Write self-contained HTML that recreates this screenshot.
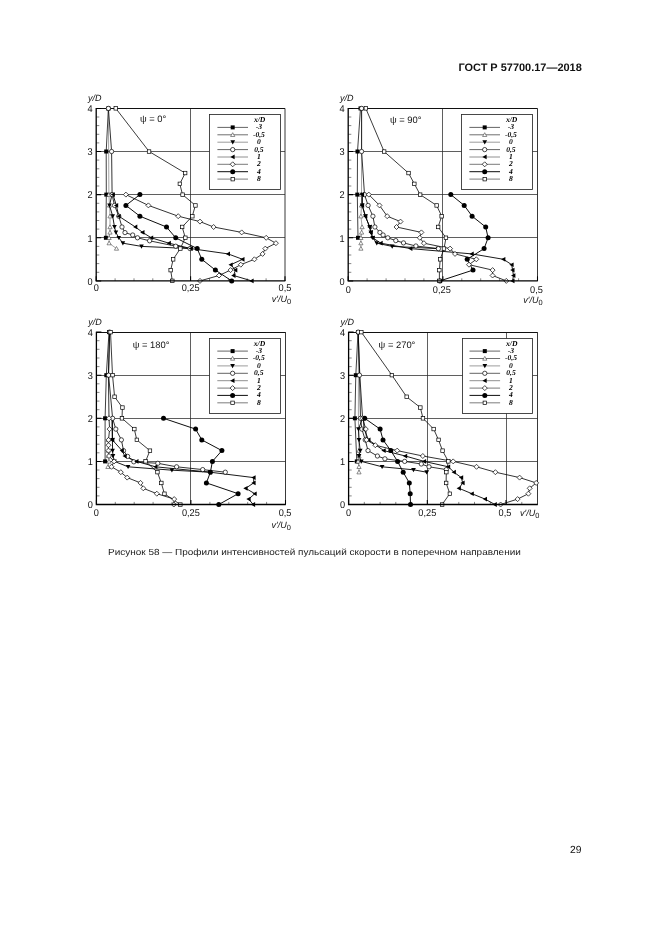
<!DOCTYPE html>
<html lang="ru"><head><meta charset="utf-8"><title>ГОСТ Р 57700.17—2018</title>
<style>
html,body{margin:0;padding:0;background:#fff;}
body{width:661px;height:935px;overflow:hidden;}
svg{display:block;filter:blur(0.3px);}
text{font-family:"Liberation Sans",sans-serif;fill:#111;text-rendering:geometricPrecision;}
.tk{font-size:9.2px;}
.ax{font-size:9.0px;font-style:italic;}
.psi{font-size:9.4px;}
.lg{font-family:"Liberation Serif",serif;font-style:italic;font-weight:bold;font-size:7.6px;fill:#000;text-rendering:geometricPrecision;}
.hd{font-size:10.9px;font-weight:bold;fill:#111;}
.cap{font-size:8.9px;fill:#222;}
.pg{font-size:10.3px;fill:#111;}
</style></head><body>
<svg width="661" height="935" viewBox="0 0 661 935">
<rect width="661" height="935" fill="#fff"/>
<text x="581.8" y="71.3" class="hd" text-anchor="end" textLength="123.4" lengthAdjust="spacingAndGlyphs">ГОСТ Р 57700.17—2018</text>
<g>
<path d="M96.2 237.5H285M96.2 194.5H285M96.2 151.5H285M190.5 108.4V280.9" stroke="#2a2a2a" stroke-width="0.75" fill="none"/>
<path d="M96.2 108.5H285" stroke="#111" stroke-width="1" fill="none"/>
<path d="M285 108.4V280.9" stroke="#222" stroke-width="0.9" fill="none"/>
<path d="M115.1 280.9V278.3M134 280.9V278.3M152.8 280.9V278.3M171.7 280.9V278.3M209.5 280.9V278.3M228.4 280.9V278.3M247.2 280.9V278.3M266.1 280.9V278.3M96.2 272.3H99.3M96.2 263.6H99.3M96.2 255H99.3M96.2 246.4H99.3M96.2 229.1H99.3M96.2 220.5H99.3M96.2 211.9H99.3M96.2 203.3H99.3M96.2 186H99.3M96.2 177.4H99.3M96.2 168.8H99.3M96.2 160.1H99.3M96.2 142.9H99.3M96.2 134.3H99.3M96.2 125.6H99.3M96.2 117H99.3" stroke="#444" stroke-width="0.65" fill="none"/>
<path d="M96.2 280.9V276.3M190.6 280.9V276.3M285 280.9V276.3M96.2 280.9H101.2M96.2 237.8H101.2M96.2 194.6H101.2M96.2 151.5H101.2M96.2 108.4H101.2" stroke="#000" stroke-width="1.05" fill="none"/>
<path d="M108.4 108.4L106.2 151.5L106.3 194.6L105.9 237.8" stroke="#000" stroke-width="0.75" fill="none" stroke-linejoin="round"/>
<path d="M108.4 108.4L108.9 194.6L109.5 205.4L110 216.2L110 227L110 232.4L109.1 237.8L109.1 243.2L116.5 248.6" stroke="#666" stroke-width="0.6" fill="none" stroke-linejoin="round"/>
<path d="M112 194.6L109.5 205.4L112.7 216.2L114.5 227L115.9 232.4L118.8 237.8L122.9 243.2L141.5 246.4L190.9 248.6" stroke="#000" stroke-width="0.9" fill="none" stroke-linejoin="round"/>
<path d="M108.4 108.4L111.6 151.5L112.1 194.6L114.5 205.4L118.8 216.2L122 227L125 232.6L132.7 235L137.5 237.8L149.6 240.8L175.7 246.2L190 248.6" stroke="#000" stroke-width="0.8" fill="none" stroke-linejoin="round"/>
<path d="M113 194.6L116.3 205.4L118.8 216.2L135.4 227L142.6 232.4L151.3 237.8L169 243.2L190.9 248.6L228.1 253.9L242.6 259.3L230.8 264.7L235.4 270.1L233.6 275.5L251.7 280.9" stroke="#000" stroke-width="0.9" fill="none" stroke-linejoin="round"/>
<path d="M125.9 194.6L148.4 205.4L178.2 216.2L200 221.6L213.6 227L241.7 232.4L266.2 237.8L275.9 243.2L265.3 248.6L262.6 253.9L254.4 259.3L240.8 264.7L230.5 270.1L219 275.5L200 280.9" stroke="#000" stroke-width="0.8" fill="none" stroke-linejoin="round"/>
<path d="M139.9 194.6L125.9 205.4L139.9 216.2L166.5 227L175.7 237.8L197.2 248.6L201.8 259.3L215.4 270.1L231.7 280.9" stroke="#000" stroke-width="0.95" fill="none" stroke-linejoin="round"/>
<path d="M115.8 108.4L149.1 151.5L185.2 173.1L179.8 183.9L182.5 194.6L195.4 205.4L192.3 216.2L182.2 227L185.3 237.8L180.3 248.6L173.2 259.3L170.7 270.1L172.3 280.9" stroke="#0a0a0a" stroke-width="0.8" fill="none" stroke-linejoin="round"/>
<rect x="106.4" y="106.4" width="4" height="4" fill="#000"/>
<rect x="104.2" y="149.5" width="4" height="4" fill="#000"/>
<rect x="104.3" y="192.6" width="4" height="4" fill="#000"/>
<rect x="103.9" y="235.8" width="4" height="4" fill="#000"/>
<path d="M108.4 106.3L110.5 110.1L106.3 110.1Z" fill="#fff" stroke="#333" stroke-width="0.55"/>
<path d="M108.9 192.5L111 196.3L106.8 196.3Z" fill="#fff" stroke="#333" stroke-width="0.55"/>
<path d="M109.5 203.3L111.6 207.1L107.4 207.1Z" fill="#fff" stroke="#333" stroke-width="0.55"/>
<path d="M110 214.1L112.1 217.9L107.9 217.9Z" fill="#fff" stroke="#333" stroke-width="0.55"/>
<path d="M110 224.9L112.1 228.7L107.9 228.7Z" fill="#fff" stroke="#333" stroke-width="0.55"/>
<path d="M110 230.3L112.1 234.1L107.9 234.1Z" fill="#fff" stroke="#333" stroke-width="0.55"/>
<path d="M109.1 235.7L111.2 239.5L107 239.5Z" fill="#fff" stroke="#333" stroke-width="0.55"/>
<path d="M109.1 241.1L111.2 244.8L107 244.8Z" fill="#fff" stroke="#333" stroke-width="0.55"/>
<path d="M116.5 246.5L118.6 250.2L114.4 250.2Z" fill="#fff" stroke="#333" stroke-width="0.55"/>
<path d="M109.7 192.8L114.3 192.8L112 197Z" fill="#000"/>
<path d="M107.2 203.6L111.8 203.6L109.5 207.8Z" fill="#000"/>
<path d="M110.4 214.3L115 214.3L112.7 218.6Z" fill="#000"/>
<path d="M112.2 225.1L116.8 225.1L114.5 229.3Z" fill="#000"/>
<path d="M113.6 230.5L118.2 230.5L115.9 234.7Z" fill="#000"/>
<path d="M116.5 235.9L121.1 235.9L118.8 240.1Z" fill="#000"/>
<path d="M120.6 241.3L125.2 241.3L122.9 245.5Z" fill="#000"/>
<path d="M139.2 244.5L143.8 244.5L141.5 248.7Z" fill="#000"/>
<path d="M188.6 246.7L193.2 246.7L190.9 250.9Z" fill="#000"/>
<circle cx="108.4" cy="108.4" r="2.15" fill="#fff" stroke="#000" stroke-width="0.7"/>
<circle cx="111.6" cy="151.5" r="2.15" fill="#fff" stroke="#000" stroke-width="0.7"/>
<circle cx="112.1" cy="194.6" r="2.15" fill="#fff" stroke="#000" stroke-width="0.7"/>
<circle cx="114.5" cy="205.4" r="2.15" fill="#fff" stroke="#000" stroke-width="0.7"/>
<circle cx="118.8" cy="216.2" r="2.15" fill="#fff" stroke="#000" stroke-width="0.7"/>
<circle cx="122" cy="227" r="2.15" fill="#fff" stroke="#000" stroke-width="0.7"/>
<circle cx="125" cy="232.6" r="2.15" fill="#fff" stroke="#000" stroke-width="0.7"/>
<circle cx="132.7" cy="235" r="2.15" fill="#fff" stroke="#000" stroke-width="0.7"/>
<circle cx="137.5" cy="237.8" r="2.15" fill="#fff" stroke="#000" stroke-width="0.7"/>
<circle cx="149.6" cy="240.8" r="2.15" fill="#fff" stroke="#000" stroke-width="0.7"/>
<circle cx="175.7" cy="246.2" r="2.15" fill="#fff" stroke="#000" stroke-width="0.7"/>
<circle cx="190" cy="248.6" r="2.15" fill="#fff" stroke="#000" stroke-width="0.7"/>
<path d="M110.7 194.6L114.9 192.3L114.9 197Z" fill="#000"/>
<path d="M114 205.4L118.2 203.1L118.2 207.8Z" fill="#000"/>
<path d="M116.5 216.2L120.7 213.9L120.7 218.6Z" fill="#000"/>
<path d="M133.1 227L137.3 224.6L137.3 229.3Z" fill="#000"/>
<path d="M140.2 232.4L144.5 230L144.5 234.7Z" fill="#000"/>
<path d="M149 237.8L153.2 235.4L153.2 240.1Z" fill="#000"/>
<path d="M166.7 243.2L170.9 240.8L170.9 245.5Z" fill="#000"/>
<path d="M188.6 248.6L192.8 246.2L192.8 250.9Z" fill="#000"/>
<path d="M225.8 253.9L230 251.6L230 256.3Z" fill="#000"/>
<path d="M240.2 259.3L244.5 257L244.5 261.7Z" fill="#000"/>
<path d="M228.5 264.7L232.7 262.4L232.7 267.1Z" fill="#000"/>
<path d="M233.1 270.1L237.3 267.8L237.3 272.5Z" fill="#000"/>
<path d="M231.2 275.5L235.5 273.2L235.5 277.9Z" fill="#000"/>
<path d="M249.3 280.9L253.6 278.5L253.6 283.2Z" fill="#000"/>
<path d="M125.9 192.1L128.4 194.6L125.9 197.1L123.4 194.6Z" fill="#fff" stroke="#000" stroke-width="0.7"/>
<path d="M148.4 202.9L150.9 205.4L148.4 207.9L145.9 205.4Z" fill="#fff" stroke="#000" stroke-width="0.7"/>
<path d="M178.2 213.7L180.7 216.2L178.2 218.7L175.7 216.2Z" fill="#fff" stroke="#000" stroke-width="0.7"/>
<path d="M200 219.1L202.5 221.6L200 224.1L197.5 221.6Z" fill="#fff" stroke="#000" stroke-width="0.7"/>
<path d="M213.6 224.5L216.1 227L213.6 229.5L211.1 227Z" fill="#fff" stroke="#000" stroke-width="0.7"/>
<path d="M241.7 229.9L244.2 232.4L241.7 234.9L239.2 232.4Z" fill="#fff" stroke="#000" stroke-width="0.7"/>
<path d="M266.2 235.3L268.7 237.8L266.2 240.3L263.7 237.8Z" fill="#fff" stroke="#000" stroke-width="0.7"/>
<path d="M275.9 240.7L278.4 243.2L275.9 245.7L273.4 243.2Z" fill="#fff" stroke="#000" stroke-width="0.7"/>
<path d="M265.3 246.1L267.8 248.6L265.3 251.1L262.8 248.6Z" fill="#fff" stroke="#000" stroke-width="0.7"/>
<path d="M262.6 251.4L265.1 253.9L262.6 256.4L260.1 253.9Z" fill="#fff" stroke="#000" stroke-width="0.7"/>
<path d="M254.4 256.8L256.9 259.3L254.4 261.8L251.9 259.3Z" fill="#fff" stroke="#000" stroke-width="0.7"/>
<path d="M240.8 262.2L243.3 264.7L240.8 267.2L238.3 264.7Z" fill="#fff" stroke="#000" stroke-width="0.7"/>
<path d="M230.5 267.6L233 270.1L230.5 272.6L228 270.1Z" fill="#fff" stroke="#000" stroke-width="0.7"/>
<path d="M219 273L221.5 275.5L219 278L216.5 275.5Z" fill="#fff" stroke="#000" stroke-width="0.7"/>
<path d="M200 278.4L202.5 280.9L200 283.4L197.5 280.9Z" fill="#fff" stroke="#000" stroke-width="0.7"/>
<circle cx="139.9" cy="194.6" r="2.5" fill="#000"/>
<circle cx="125.9" cy="205.4" r="2.5" fill="#000"/>
<circle cx="139.9" cy="216.2" r="2.5" fill="#000"/>
<circle cx="166.5" cy="227" r="2.5" fill="#000"/>
<circle cx="175.7" cy="237.8" r="2.5" fill="#000"/>
<circle cx="197.2" cy="248.6" r="2.5" fill="#000"/>
<circle cx="201.8" cy="259.3" r="2.5" fill="#000"/>
<circle cx="215.4" cy="270.1" r="2.5" fill="#000"/>
<circle cx="231.7" cy="280.9" r="2.5" fill="#000"/>
<rect x="114" y="106.6" width="3.5" height="3.5" fill="#fff" stroke="#000" stroke-width="0.7"/>
<rect x="147.3" y="149.8" width="3.5" height="3.5" fill="#fff" stroke="#000" stroke-width="0.7"/>
<rect x="183.4" y="171.3" width="3.5" height="3.5" fill="#fff" stroke="#000" stroke-width="0.7"/>
<rect x="178.1" y="182.1" width="3.5" height="3.5" fill="#fff" stroke="#000" stroke-width="0.7"/>
<rect x="180.8" y="192.9" width="3.5" height="3.5" fill="#fff" stroke="#000" stroke-width="0.7"/>
<rect x="193.7" y="203.7" width="3.5" height="3.5" fill="#fff" stroke="#000" stroke-width="0.7"/>
<rect x="190.6" y="214.5" width="3.5" height="3.5" fill="#fff" stroke="#000" stroke-width="0.7"/>
<rect x="180.4" y="225.2" width="3.5" height="3.5" fill="#fff" stroke="#000" stroke-width="0.7"/>
<rect x="183.6" y="236" width="3.5" height="3.5" fill="#fff" stroke="#000" stroke-width="0.7"/>
<rect x="178.6" y="246.8" width="3.5" height="3.5" fill="#fff" stroke="#000" stroke-width="0.7"/>
<rect x="171.4" y="257.6" width="3.5" height="3.5" fill="#fff" stroke="#000" stroke-width="0.7"/>
<rect x="168.9" y="268.4" width="3.5" height="3.5" fill="#fff" stroke="#000" stroke-width="0.7"/>
<rect x="170.6" y="279.1" width="3.5" height="3.5" fill="#fff" stroke="#000" stroke-width="0.7"/>
<path d="M96.2 108.1V280.9H285.3" stroke="#000" stroke-width="1.3" fill="none"/>
<rect x="209.5" y="114.5" width="71" height="75" fill="#fff" stroke="#2a2a2a" stroke-width="0.85"/>
<text x="259.6" y="122.4" class="lg" text-anchor="middle">x/D</text>
<path d="M217.4 127.4H248" stroke="#111" stroke-width="0.65"/>
<rect x="230.7" y="125.4" width="4" height="4" fill="#000"/>
<text x="258.9" y="129.3" class="lg" text-anchor="middle">-3</text>
<path d="M217.4 134.8H248" stroke="#222" stroke-width="0.65"/>
<path d="M232.7 132.7L234.8 136.5L230.6 136.5Z" fill="#fff" stroke="#333" stroke-width="0.55"/>
<text x="258.9" y="136.7" class="lg" text-anchor="middle">-0,5</text>
<path d="M217.4 142.2H248" stroke="#666" stroke-width="0.65"/>
<path d="M230.4 140.3L235.1 140.3L232.7 144.5Z" fill="#000"/>
<text x="258.9" y="144.1" class="lg" text-anchor="middle">0</text>
<path d="M217.4 149.6H248" stroke="#111" stroke-width="0.65"/>
<circle cx="232.7" cy="149.6" r="2.15" fill="#fff" stroke="#000" stroke-width="0.7"/>
<text x="258.9" y="151.5" class="lg" text-anchor="middle">0,5</text>
<path d="M217.4 157H248" stroke="#555" stroke-width="0.65"/>
<path d="M230.4 157L234.6 154.6L234.6 159.3Z" fill="#000"/>
<text x="258.9" y="158.9" class="lg" text-anchor="middle">1</text>
<path d="M217.4 164.3H248" stroke="#333" stroke-width="0.65"/>
<path d="M232.7 161.8L235.2 164.3L232.7 166.8L230.2 164.3Z" fill="#fff" stroke="#000" stroke-width="0.7"/>
<text x="258.9" y="166.2" class="lg" text-anchor="middle">2</text>
<path d="M217.4 171.7H248" stroke="#000" stroke-width="0.95"/>
<circle cx="232.7" cy="171.7" r="2.5" fill="#000"/>
<text x="258.9" y="173.6" class="lg" text-anchor="middle">4</text>
<path d="M217.4 179.1H248" stroke="#888" stroke-width="1.1"/>
<rect x="231" y="177.4" width="3.5" height="3.5" fill="#fff" stroke="#000" stroke-width="0.7"/>
<text x="258.9" y="181" class="lg" text-anchor="middle">8</text>
<text transform="translate(92.6 284.6) scale(1 1.07)" class="tk" text-anchor="end">0</text>
<text transform="translate(92.6 241.5) scale(1 1.07)" class="tk" text-anchor="end">1</text>
<text transform="translate(92.6 198.3) scale(1 1.07)" class="tk" text-anchor="end">2</text>
<text transform="translate(92.6 155.2) scale(1 1.07)" class="tk" text-anchor="end">3</text>
<text transform="translate(92.6 112.1) scale(1 1.07)" class="tk" text-anchor="end">4</text>
<text x="88" y="101.4" class="ax">y/D</text>
<text transform="translate(96.2 290.9) scale(1 1.07)" class="tk" text-anchor="middle">0</text>
<text transform="translate(190.6 290.9) scale(1 1.07)" class="tk" text-anchor="middle">0,25</text>
<text transform="translate(285 290.9) scale(1 1.07)" class="tk" text-anchor="middle">0,5</text>
<text x="271.7" y="301.8" class="ax">v′/U<tspan dy="2" font-size="7.4" font-style="normal">0</tspan></text>
<text x="140" y="122.3" class="psi">ψ = 0°</text>
</g>
<g>
<path d="M348.2 237.5H537.5M348.2 194.5H537.5M348.2 151.5H537.5M442.5 108.4V280.9" stroke="#2a2a2a" stroke-width="0.75" fill="none"/>
<path d="M348.2 108.5H537.5" stroke="#111" stroke-width="1" fill="none"/>
<path d="M537.5 108.4V280.9" stroke="#222" stroke-width="0.9" fill="none"/>
<path d="M367.1 280.9V278.3M386.1 280.9V278.3M405 280.9V278.3M423.9 280.9V278.3M461.8 280.9V278.3M480.7 280.9V278.3M499.6 280.9V278.3M518.6 280.9V278.3M348.2 272.3H351.3M348.2 263.6H351.3M348.2 255H351.3M348.2 246.4H351.3M348.2 229.1H351.3M348.2 220.5H351.3M348.2 211.9H351.3M348.2 203.3H351.3M348.2 186H351.3M348.2 177.4H351.3M348.2 168.8H351.3M348.2 160.1H351.3M348.2 142.9H351.3M348.2 134.3H351.3M348.2 125.6H351.3M348.2 117H351.3" stroke="#444" stroke-width="0.65" fill="none"/>
<path d="M348.2 280.9V276.3M442.9 280.9V276.3M537.5 280.9V276.3M348.2 280.9H353.2M348.2 237.8H353.2M348.2 194.6H353.2M348.2 151.5H353.2M348.2 108.4H353.2" stroke="#000" stroke-width="1.05" fill="none"/>
<path d="M360.5 108.4L357.5 151.5L357.3 194.6L358 237.8" stroke="#000" stroke-width="0.75" fill="none" stroke-linejoin="round"/>
<path d="M361.6 108.4L361.5 194.6L361.5 205.4L360.9 216.2L362.1 227L361.6 232.4L360.9 237.8L360.9 243.2L360.9 248.6" stroke="#666" stroke-width="0.6" fill="none" stroke-linejoin="round"/>
<path d="M362.2 194.6L362.2 205.4L365.4 216.2L369.7 227L370.9 232.4L372.7 237.8L376.8 243.2L392.2 246.4L438 248.6" stroke="#000" stroke-width="0.9" fill="none" stroke-linejoin="round"/>
<path d="M361.6 108.4L361.6 151.5L364.5 194.6L368.1 205.4L372.9 216.2L374.9 227L379.9 232.4L383.1 235L387.8 237.8L395.8 240.6L403.5 242.9L415.9 246L438.4 248.6" stroke="#000" stroke-width="0.8" fill="none" stroke-linejoin="round"/>
<path d="M362.2 194.6L362.2 205.4L365.4 216.2L369.7 227L370.9 232.4L372.7 237.8L380.8 243.2L410.5 248.6L471.8 253.9L503.5 259.3L511.7 264.7L512.6 270.1L513.5 275.5L512.6 280.9" stroke="#000" stroke-width="0.9" fill="none" stroke-linejoin="round"/>
<path d="M368.8 194.6L379.5 205.4L387.2 216.2L400.5 221.6L396.5 227L421.4 232.4L419.8 237.8L423.9 243.2L450.1 248.6L455 253.9L476.3 259.3L469 264.7L492.6 270.1L492.6 275.5L506.3 280.9" stroke="#000" stroke-width="0.8" fill="none" stroke-linejoin="round"/>
<path d="M450.8 194.6L464.2 205.4L472.1 216.2L485.7 227L488.1 237.8L484.1 248.6L467.2 259.3L473 270.1L440 280.9" stroke="#000" stroke-width="0.95" fill="none" stroke-linejoin="round"/>
<path d="M365.8 108.4L384.1 151.5L408.5 173.1L414.4 183.9L420.1 194.6L436.6 205.4L441.7 216.2L438.1 227L446 237.8L444 248.6L440.2 259.3L439.4 270.1L439.4 280.9" stroke="#0a0a0a" stroke-width="0.8" fill="none" stroke-linejoin="round"/>
<rect x="358.5" y="106.4" width="4" height="4" fill="#000"/>
<rect x="355.5" y="149.5" width="4" height="4" fill="#000"/>
<rect x="355.3" y="192.6" width="4" height="4" fill="#000"/>
<rect x="356" y="235.8" width="4" height="4" fill="#000"/>
<path d="M361.6 106.3L363.7 110.1L359.5 110.1Z" fill="#fff" stroke="#333" stroke-width="0.55"/>
<path d="M361.5 192.5L363.6 196.3L359.4 196.3Z" fill="#fff" stroke="#333" stroke-width="0.55"/>
<path d="M361.5 203.3L363.6 207.1L359.4 207.1Z" fill="#fff" stroke="#333" stroke-width="0.55"/>
<path d="M360.9 214.1L363 217.9L358.8 217.9Z" fill="#fff" stroke="#333" stroke-width="0.55"/>
<path d="M362.1 224.9L364.2 228.7L360 228.7Z" fill="#fff" stroke="#333" stroke-width="0.55"/>
<path d="M361.6 230.3L363.7 234.1L359.5 234.1Z" fill="#fff" stroke="#333" stroke-width="0.55"/>
<path d="M360.9 235.7L363 239.5L358.8 239.5Z" fill="#fff" stroke="#333" stroke-width="0.55"/>
<path d="M360.9 241.1L363 244.8L358.8 244.8Z" fill="#fff" stroke="#333" stroke-width="0.55"/>
<path d="M360.9 246.5L363 250.2L358.8 250.2Z" fill="#fff" stroke="#333" stroke-width="0.55"/>
<path d="M359.8 192.8L364.6 192.8L362.2 197Z" fill="#000"/>
<path d="M359.8 203.6L364.6 203.6L362.2 207.8Z" fill="#000"/>
<path d="M363 214.3L367.8 214.3L365.4 218.6Z" fill="#000"/>
<path d="M367.3 225.1L372.1 225.1L369.7 229.3Z" fill="#000"/>
<path d="M368.5 230.5L373.2 230.5L370.9 234.7Z" fill="#000"/>
<path d="M370.3 235.9L375.1 235.9L372.7 240.1Z" fill="#000"/>
<path d="M374.4 241.3L379.2 241.3L376.8 245.5Z" fill="#000"/>
<path d="M389.8 244.5L394.6 244.5L392.2 248.7Z" fill="#000"/>
<path d="M435.6 246.7L440.4 246.7L438 250.9Z" fill="#000"/>
<circle cx="361.6" cy="108.4" r="2.15" fill="#fff" stroke="#000" stroke-width="0.7"/>
<circle cx="361.6" cy="151.5" r="2.15" fill="#fff" stroke="#000" stroke-width="0.7"/>
<circle cx="364.5" cy="194.6" r="2.15" fill="#fff" stroke="#000" stroke-width="0.7"/>
<circle cx="368.1" cy="205.4" r="2.15" fill="#fff" stroke="#000" stroke-width="0.7"/>
<circle cx="372.9" cy="216.2" r="2.15" fill="#fff" stroke="#000" stroke-width="0.7"/>
<circle cx="374.9" cy="227" r="2.15" fill="#fff" stroke="#000" stroke-width="0.7"/>
<circle cx="379.9" cy="232.4" r="2.15" fill="#fff" stroke="#000" stroke-width="0.7"/>
<circle cx="383.1" cy="235" r="2.15" fill="#fff" stroke="#000" stroke-width="0.7"/>
<circle cx="387.8" cy="237.8" r="2.15" fill="#fff" stroke="#000" stroke-width="0.7"/>
<circle cx="395.8" cy="240.6" r="2.15" fill="#fff" stroke="#000" stroke-width="0.7"/>
<circle cx="403.5" cy="242.9" r="2.15" fill="#fff" stroke="#000" stroke-width="0.7"/>
<circle cx="415.9" cy="246" r="2.15" fill="#fff" stroke="#000" stroke-width="0.7"/>
<circle cx="438.4" cy="248.6" r="2.15" fill="#fff" stroke="#000" stroke-width="0.7"/>
<path d="M359.8 194.6L364.1 192.3L364.1 197Z" fill="#000"/>
<path d="M359.8 205.4L364.1 203.1L364.1 207.8Z" fill="#000"/>
<path d="M363 216.2L367.3 213.9L367.3 218.6Z" fill="#000"/>
<path d="M367.3 227L371.6 224.6L371.6 229.3Z" fill="#000"/>
<path d="M368.5 232.4L372.8 230L372.8 234.7Z" fill="#000"/>
<path d="M370.3 237.8L374.6 235.4L374.6 240.1Z" fill="#000"/>
<path d="M378.4 243.2L382.7 240.8L382.7 245.5Z" fill="#000"/>
<path d="M408.1 248.6L412.4 246.2L412.4 250.9Z" fill="#000"/>
<path d="M469.4 253.9L473.7 251.6L473.7 256.3Z" fill="#000"/>
<path d="M501.1 259.3L505.4 257L505.4 261.7Z" fill="#000"/>
<path d="M509.3 264.7L513.6 262.4L513.6 267.1Z" fill="#000"/>
<path d="M510.2 270.1L514.5 267.8L514.5 272.5Z" fill="#000"/>
<path d="M511.1 275.5L515.4 273.2L515.4 277.9Z" fill="#000"/>
<path d="M510.2 280.9L514.5 278.5L514.5 283.2Z" fill="#000"/>
<path d="M368.8 192.1L371.3 194.6L368.8 197.1L366.3 194.6Z" fill="#fff" stroke="#000" stroke-width="0.7"/>
<path d="M379.5 202.9L382 205.4L379.5 207.9L377 205.4Z" fill="#fff" stroke="#000" stroke-width="0.7"/>
<path d="M387.2 213.7L389.7 216.2L387.2 218.7L384.7 216.2Z" fill="#fff" stroke="#000" stroke-width="0.7"/>
<path d="M400.5 219.1L403 221.6L400.5 224.1L398 221.6Z" fill="#fff" stroke="#000" stroke-width="0.7"/>
<path d="M396.5 224.5L399 227L396.5 229.5L394 227Z" fill="#fff" stroke="#000" stroke-width="0.7"/>
<path d="M421.4 229.9L423.9 232.4L421.4 234.9L418.9 232.4Z" fill="#fff" stroke="#000" stroke-width="0.7"/>
<path d="M419.8 235.3L422.3 237.8L419.8 240.3L417.3 237.8Z" fill="#fff" stroke="#000" stroke-width="0.7"/>
<path d="M423.9 240.7L426.4 243.2L423.9 245.7L421.4 243.2Z" fill="#fff" stroke="#000" stroke-width="0.7"/>
<path d="M450.1 246.1L452.6 248.6L450.1 251.1L447.6 248.6Z" fill="#fff" stroke="#000" stroke-width="0.7"/>
<path d="M455 251.4L457.5 253.9L455 256.4L452.5 253.9Z" fill="#fff" stroke="#000" stroke-width="0.7"/>
<path d="M476.3 256.8L478.8 259.3L476.3 261.8L473.8 259.3Z" fill="#fff" stroke="#000" stroke-width="0.7"/>
<path d="M469 262.2L471.5 264.7L469 267.2L466.5 264.7Z" fill="#fff" stroke="#000" stroke-width="0.7"/>
<path d="M492.6 267.6L495.1 270.1L492.6 272.6L490.1 270.1Z" fill="#fff" stroke="#000" stroke-width="0.7"/>
<path d="M492.6 273L495.1 275.5L492.6 278L490.1 275.5Z" fill="#fff" stroke="#000" stroke-width="0.7"/>
<path d="M506.3 278.4L508.8 280.9L506.3 283.4L503.8 280.9Z" fill="#fff" stroke="#000" stroke-width="0.7"/>
<circle cx="450.8" cy="194.6" r="2.5" fill="#000"/>
<circle cx="464.2" cy="205.4" r="2.5" fill="#000"/>
<circle cx="472.1" cy="216.2" r="2.5" fill="#000"/>
<circle cx="485.7" cy="227" r="2.5" fill="#000"/>
<circle cx="488.1" cy="237.8" r="2.5" fill="#000"/>
<circle cx="484.1" cy="248.6" r="2.5" fill="#000"/>
<circle cx="467.2" cy="259.3" r="2.5" fill="#000"/>
<circle cx="473" cy="270.1" r="2.5" fill="#000"/>
<circle cx="440" cy="280.9" r="2.5" fill="#000"/>
<rect x="364.1" y="106.6" width="3.5" height="3.5" fill="#fff" stroke="#000" stroke-width="0.7"/>
<rect x="382.4" y="149.8" width="3.5" height="3.5" fill="#fff" stroke="#000" stroke-width="0.7"/>
<rect x="406.8" y="171.3" width="3.5" height="3.5" fill="#fff" stroke="#000" stroke-width="0.7"/>
<rect x="412.6" y="182.1" width="3.5" height="3.5" fill="#fff" stroke="#000" stroke-width="0.7"/>
<rect x="418.4" y="192.9" width="3.5" height="3.5" fill="#fff" stroke="#000" stroke-width="0.7"/>
<rect x="434.9" y="203.7" width="3.5" height="3.5" fill="#fff" stroke="#000" stroke-width="0.7"/>
<rect x="439.9" y="214.5" width="3.5" height="3.5" fill="#fff" stroke="#000" stroke-width="0.7"/>
<rect x="436.4" y="225.2" width="3.5" height="3.5" fill="#fff" stroke="#000" stroke-width="0.7"/>
<rect x="444.2" y="236" width="3.5" height="3.5" fill="#fff" stroke="#000" stroke-width="0.7"/>
<rect x="442.2" y="246.8" width="3.5" height="3.5" fill="#fff" stroke="#000" stroke-width="0.7"/>
<rect x="438.4" y="257.6" width="3.5" height="3.5" fill="#fff" stroke="#000" stroke-width="0.7"/>
<rect x="437.6" y="268.4" width="3.5" height="3.5" fill="#fff" stroke="#000" stroke-width="0.7"/>
<rect x="437.6" y="279.1" width="3.5" height="3.5" fill="#fff" stroke="#000" stroke-width="0.7"/>
<path d="M348.2 108.1V280.9H537.8" stroke="#000" stroke-width="1.3" fill="none"/>
<rect x="461.5" y="114.5" width="71" height="75" fill="#fff" stroke="#2a2a2a" stroke-width="0.85"/>
<text x="511.6" y="122.4" class="lg" text-anchor="middle">x/D</text>
<path d="M469.4 127.4H500" stroke="#111" stroke-width="0.65"/>
<rect x="482.7" y="125.4" width="4" height="4" fill="#000"/>
<text x="510.9" y="129.3" class="lg" text-anchor="middle">-3</text>
<path d="M469.4 134.8H500" stroke="#222" stroke-width="0.65"/>
<path d="M484.7 132.7L486.8 136.5L482.6 136.5Z" fill="#fff" stroke="#333" stroke-width="0.55"/>
<text x="510.9" y="136.7" class="lg" text-anchor="middle">-0,5</text>
<path d="M469.4 142.2H500" stroke="#666" stroke-width="0.65"/>
<path d="M482.4 140.3L487.1 140.3L484.7 144.5Z" fill="#000"/>
<text x="510.9" y="144.1" class="lg" text-anchor="middle">0</text>
<path d="M469.4 149.6H500" stroke="#111" stroke-width="0.65"/>
<circle cx="484.7" cy="149.6" r="2.15" fill="#fff" stroke="#000" stroke-width="0.7"/>
<text x="510.9" y="151.5" class="lg" text-anchor="middle">0,5</text>
<path d="M469.4 157H500" stroke="#555" stroke-width="0.65"/>
<path d="M482.4 157L486.6 154.6L486.6 159.3Z" fill="#000"/>
<text x="510.9" y="158.9" class="lg" text-anchor="middle">1</text>
<path d="M469.4 164.3H500" stroke="#333" stroke-width="0.65"/>
<path d="M484.7 161.8L487.2 164.3L484.7 166.8L482.2 164.3Z" fill="#fff" stroke="#000" stroke-width="0.7"/>
<text x="510.9" y="166.2" class="lg" text-anchor="middle">2</text>
<path d="M469.4 171.7H500" stroke="#000" stroke-width="0.95"/>
<circle cx="484.7" cy="171.7" r="2.5" fill="#000"/>
<text x="510.9" y="173.6" class="lg" text-anchor="middle">4</text>
<path d="M469.4 179.1H500" stroke="#888" stroke-width="1.1"/>
<rect x="483" y="177.4" width="3.5" height="3.5" fill="#fff" stroke="#000" stroke-width="0.7"/>
<text x="510.9" y="181" class="lg" text-anchor="middle">8</text>
<text transform="translate(344.6 284.6) scale(1 1.07)" class="tk" text-anchor="end">0</text>
<text transform="translate(344.6 241.5) scale(1 1.07)" class="tk" text-anchor="end">1</text>
<text transform="translate(344.6 198.3) scale(1 1.07)" class="tk" text-anchor="end">2</text>
<text transform="translate(344.6 155.2) scale(1 1.07)" class="tk" text-anchor="end">3</text>
<text transform="translate(344.6 112.1) scale(1 1.07)" class="tk" text-anchor="end">4</text>
<text x="340" y="101.4" class="ax">y/D</text>
<text transform="translate(348.2 292.5) scale(1 1.07)" class="tk" text-anchor="middle">0</text>
<text transform="translate(441.8 292.5) scale(1 1.07)" class="tk" text-anchor="middle">0,25</text>
<text transform="translate(536.5 292.5) scale(1 1.07)" class="tk" text-anchor="middle">0,5</text>
<text x="523.3" y="303.3" class="ax">v′/U<tspan dy="2" font-size="7.4" font-style="normal">0</tspan></text>
<text x="390" y="122.5" class="psi">ψ = 90°</text>
</g>
<g>
<path d="M96.4 461.5H285.5M96.4 418.5H285.5M96.4 375.5H285.5M190.5 332.1V504.5" stroke="#2a2a2a" stroke-width="0.75" fill="none"/>
<path d="M96.4 332.5H285.5" stroke="#111" stroke-width="1" fill="none"/>
<path d="M285.5 332.1V504.5" stroke="#222" stroke-width="0.9" fill="none"/>
<path d="M115.3 504.5V501.9M134.2 504.5V501.9M153.1 504.5V501.9M172 504.5V501.9M209.9 504.5V501.9M228.8 504.5V501.9M247.7 504.5V501.9M266.6 504.5V501.9M96.4 495.9H99.5M96.4 487.3H99.5M96.4 478.6H99.5M96.4 470H99.5M96.4 452.8H99.5M96.4 444.2H99.5M96.4 435.5H99.5M96.4 426.9H99.5M96.4 409.7H99.5M96.4 401.1H99.5M96.4 392.4H99.5M96.4 383.8H99.5M96.4 366.6H99.5M96.4 358H99.5M96.4 349.3H99.5M96.4 340.7H99.5" stroke="#444" stroke-width="0.65" fill="none"/>
<path d="M96.4 504.5V499.9M190.9 504.5V499.9M285.5 504.5V499.9M96.4 504.5H101.4M96.4 461.4H101.4M96.4 418.3H101.4M96.4 375.2H101.4M96.4 332.1H101.4" stroke="#000" stroke-width="1.05" fill="none"/>
<path d="M109 332.1L106.3 375.2L105.1 418.3L105.1 461.4" stroke="#000" stroke-width="0.75" fill="none" stroke-linejoin="round"/>
<path d="M108.2 439.9L108.3 450.6L108.5 456L109 461.4L107.9 466.8" stroke="#666" stroke-width="0.6" fill="none" stroke-linejoin="round"/>
<path d="M112 418.3L112.4 439.9L112.6 450.6L113 456L114.5 461.4L128.1 466.8L171.9 470.2L210 472.2" stroke="#000" stroke-width="0.9" fill="none" stroke-linejoin="round"/>
<path d="M109.6 332.1L108.6 375.2L112.6 418.3L115.8 429.1L121.4 439.9L123.5 450.6L127.6 456.4L133.8 461.8L157.8 463.3L176.6 466.8L202.7 469.6L225.3 472.2" stroke="#000" stroke-width="0.8" fill="none" stroke-linejoin="round"/>
<path d="M112.4 418.3L112.4 439.9L122 450.6L124.8 456L136.6 461.4L155.5 466.8L210.1 472.2L253.7 477.6L253.7 482.9L245.7 488.3L254.8 493.7L248.7 499.1L253.2 504.5" stroke="#000" stroke-width="0.9" fill="none" stroke-linejoin="round"/>
<path d="M109.6 332.1L108.4 375.2L109 418.3L109.6 429.1L108.5 439.9L108.5 445.2L108.5 450.6L109 456L114.1 461.4L111.5 466.8L120.8 472.2L127.2 477.6L140.5 482.9L143.3 488.3L156.8 493.7L174.2 499.1L173.8 504.5" stroke="#000" stroke-width="0.8" fill="none" stroke-linejoin="round"/>
<path d="M163.5 418.3L195.6 429.1L201.8 439.9L221.9 450.6L212.4 461.4L210.4 472.2L206.4 482.9L238.1 493.7L218.8 504.5" stroke="#000" stroke-width="0.95" fill="none" stroke-linejoin="round"/>
<path d="M110.5 332.1L112.5 375.2L114.6 396.8L122.4 407.5L122 418.3L134.3 429.1L136.8 439.9L149.9 450.6L145.6 461.4L157.4 472.2L161.3 482.9L164.4 493.7L180.3 504.5" stroke="#0a0a0a" stroke-width="0.8" fill="none" stroke-linejoin="round"/>
<rect x="107" y="330.1" width="4" height="4" fill="#000"/>
<rect x="104.3" y="373.2" width="4" height="4" fill="#000"/>
<rect x="103.1" y="416.3" width="4" height="4" fill="#000"/>
<rect x="103.1" y="459.4" width="4" height="4" fill="#000"/>
<path d="M108.2 437.8L110.3 441.5L106.1 441.5Z" fill="#fff" stroke="#333" stroke-width="0.55"/>
<path d="M108.3 448.5L110.4 452.3L106.2 452.3Z" fill="#fff" stroke="#333" stroke-width="0.55"/>
<path d="M108.5 453.9L110.6 457.7L106.4 457.7Z" fill="#fff" stroke="#333" stroke-width="0.55"/>
<path d="M109 459.3L111.1 463.1L106.9 463.1Z" fill="#fff" stroke="#333" stroke-width="0.55"/>
<path d="M107.9 464.7L110 468.5L105.8 468.5Z" fill="#fff" stroke="#333" stroke-width="0.55"/>
<path d="M110.1 438L114.8 438L112.4 442.2Z" fill="#000"/>
<path d="M110.2 448.7L114.9 448.7L112.6 453Z" fill="#000"/>
<path d="M110.7 454.1L115.3 454.1L113 458.4Z" fill="#000"/>
<path d="M112.2 459.5L116.8 459.5L114.5 463.8Z" fill="#000"/>
<path d="M125.8 464.9L130.4 464.9L128.1 469.1Z" fill="#000"/>
<path d="M169.6 468.4L174.2 468.4L171.9 472.6Z" fill="#000"/>
<path d="M207.7 470.3L212.3 470.3L210 474.5Z" fill="#000"/>
<circle cx="109.6" cy="332.1" r="2.15" fill="#fff" stroke="#000" stroke-width="0.7"/>
<circle cx="108.6" cy="375.2" r="2.15" fill="#fff" stroke="#000" stroke-width="0.7"/>
<circle cx="112.6" cy="418.3" r="2.15" fill="#fff" stroke="#000" stroke-width="0.7"/>
<circle cx="115.8" cy="429.1" r="2.15" fill="#fff" stroke="#000" stroke-width="0.7"/>
<circle cx="121.4" cy="439.9" r="2.15" fill="#fff" stroke="#000" stroke-width="0.7"/>
<circle cx="123.5" cy="450.6" r="2.15" fill="#fff" stroke="#000" stroke-width="0.7"/>
<circle cx="127.6" cy="456.4" r="2.15" fill="#fff" stroke="#000" stroke-width="0.7"/>
<circle cx="133.8" cy="461.8" r="2.15" fill="#fff" stroke="#000" stroke-width="0.7"/>
<circle cx="157.8" cy="463.3" r="2.15" fill="#fff" stroke="#000" stroke-width="0.7"/>
<circle cx="176.6" cy="466.8" r="2.15" fill="#fff" stroke="#000" stroke-width="0.7"/>
<circle cx="202.7" cy="469.6" r="2.15" fill="#fff" stroke="#000" stroke-width="0.7"/>
<circle cx="225.3" cy="472.2" r="2.15" fill="#fff" stroke="#000" stroke-width="0.7"/>
<path d="M110.1 439.9L114.3 437.5L114.3 442.2Z" fill="#000"/>
<path d="M119.7 450.6L123.9 448.3L123.9 453Z" fill="#000"/>
<path d="M122.5 456L126.7 453.7L126.7 458.4Z" fill="#000"/>
<path d="M134.2 461.4L138.5 459L138.5 463.8Z" fill="#000"/>
<path d="M153.2 466.8L157.4 464.4L157.4 469.1Z" fill="#000"/>
<path d="M207.8 472.2L212 469.8L212 474.5Z" fill="#000"/>
<path d="M251.3 477.6L255.6 475.2L255.6 479.9Z" fill="#000"/>
<path d="M251.3 482.9L255.6 480.6L255.6 485.3Z" fill="#000"/>
<path d="M243.3 488.3L247.6 486L247.6 490.7Z" fill="#000"/>
<path d="M252.5 493.7L256.7 491.4L256.7 496.1Z" fill="#000"/>
<path d="M246.3 499.1L250.6 496.8L250.6 501.5Z" fill="#000"/>
<path d="M250.8 504.5L255.1 502.1L255.1 506.9Z" fill="#000"/>
<path d="M109 415.8L111.5 418.3L109 420.8L106.5 418.3Z" fill="#fff" stroke="#000" stroke-width="0.7"/>
<path d="M109.6 426.6L112.1 429.1L109.6 431.6L107.1 429.1Z" fill="#fff" stroke="#000" stroke-width="0.7"/>
<path d="M108.5 437.4L111 439.9L108.5 442.4L106 439.9Z" fill="#fff" stroke="#000" stroke-width="0.7"/>
<path d="M108.5 442.7L111 445.2L108.5 447.7L106 445.2Z" fill="#fff" stroke="#000" stroke-width="0.7"/>
<path d="M108.5 448.1L111 450.6L108.5 453.1L106 450.6Z" fill="#fff" stroke="#000" stroke-width="0.7"/>
<path d="M109 453.5L111.5 456L109 458.5L106.5 456Z" fill="#fff" stroke="#000" stroke-width="0.7"/>
<path d="M114.1 458.9L116.6 461.4L114.1 463.9L111.6 461.4Z" fill="#fff" stroke="#000" stroke-width="0.7"/>
<path d="M111.5 464.3L114 466.8L111.5 469.3L109 466.8Z" fill="#fff" stroke="#000" stroke-width="0.7"/>
<path d="M120.8 469.7L123.3 472.2L120.8 474.7L118.3 472.2Z" fill="#fff" stroke="#000" stroke-width="0.7"/>
<path d="M127.2 475.1L129.7 477.6L127.2 480.1L124.7 477.6Z" fill="#fff" stroke="#000" stroke-width="0.7"/>
<path d="M140.5 480.4L143 482.9L140.5 485.4L138 482.9Z" fill="#fff" stroke="#000" stroke-width="0.7"/>
<path d="M143.3 485.8L145.8 488.3L143.3 490.8L140.8 488.3Z" fill="#fff" stroke="#000" stroke-width="0.7"/>
<path d="M156.8 491.2L159.3 493.7L156.8 496.2L154.3 493.7Z" fill="#fff" stroke="#000" stroke-width="0.7"/>
<path d="M174.2 496.6L176.7 499.1L174.2 501.6L171.7 499.1Z" fill="#fff" stroke="#000" stroke-width="0.7"/>
<path d="M173.8 502L176.3 504.5L173.8 507L171.3 504.5Z" fill="#fff" stroke="#000" stroke-width="0.7"/>
<circle cx="163.5" cy="418.3" r="2.5" fill="#000"/>
<circle cx="195.6" cy="429.1" r="2.5" fill="#000"/>
<circle cx="201.8" cy="439.9" r="2.5" fill="#000"/>
<circle cx="221.9" cy="450.6" r="2.5" fill="#000"/>
<circle cx="212.4" cy="461.4" r="2.5" fill="#000"/>
<circle cx="210.4" cy="472.2" r="2.5" fill="#000"/>
<circle cx="206.4" cy="482.9" r="2.5" fill="#000"/>
<circle cx="238.1" cy="493.7" r="2.5" fill="#000"/>
<circle cx="218.8" cy="504.5" r="2.5" fill="#000"/>
<rect x="108.8" y="330.4" width="3.5" height="3.5" fill="#fff" stroke="#000" stroke-width="0.7"/>
<rect x="110.8" y="373.4" width="3.5" height="3.5" fill="#fff" stroke="#000" stroke-width="0.7"/>
<rect x="112.8" y="395" width="3.5" height="3.5" fill="#fff" stroke="#000" stroke-width="0.7"/>
<rect x="120.7" y="405.8" width="3.5" height="3.5" fill="#fff" stroke="#000" stroke-width="0.7"/>
<rect x="120.2" y="416.6" width="3.5" height="3.5" fill="#fff" stroke="#000" stroke-width="0.7"/>
<rect x="132.6" y="427.3" width="3.5" height="3.5" fill="#fff" stroke="#000" stroke-width="0.7"/>
<rect x="135.1" y="438.1" width="3.5" height="3.5" fill="#fff" stroke="#000" stroke-width="0.7"/>
<rect x="148.2" y="448.9" width="3.5" height="3.5" fill="#fff" stroke="#000" stroke-width="0.7"/>
<rect x="143.8" y="459.6" width="3.5" height="3.5" fill="#fff" stroke="#000" stroke-width="0.7"/>
<rect x="155.7" y="470.4" width="3.5" height="3.5" fill="#fff" stroke="#000" stroke-width="0.7"/>
<rect x="159.6" y="481.2" width="3.5" height="3.5" fill="#fff" stroke="#000" stroke-width="0.7"/>
<rect x="162.7" y="492" width="3.5" height="3.5" fill="#fff" stroke="#000" stroke-width="0.7"/>
<rect x="178.6" y="502.8" width="3.5" height="3.5" fill="#fff" stroke="#000" stroke-width="0.7"/>
<path d="M96.4 331.8V504.5H285.8" stroke="#000" stroke-width="1.3" fill="none"/>
<rect x="209.5" y="338.5" width="71" height="75" fill="#fff" stroke="#2a2a2a" stroke-width="0.85"/>
<text x="259.5" y="346.1" class="lg" text-anchor="middle">x/D</text>
<path d="M217.3 351.1H247.9" stroke="#111" stroke-width="0.65"/>
<rect x="230.6" y="349.1" width="4" height="4" fill="#000"/>
<text x="258.8" y="353" class="lg" text-anchor="middle">-3</text>
<path d="M217.3 358.5H247.9" stroke="#222" stroke-width="0.65"/>
<path d="M232.6 356.4L234.7 360.2L230.5 360.2Z" fill="#fff" stroke="#333" stroke-width="0.55"/>
<text x="258.8" y="360.4" class="lg" text-anchor="middle">-0,5</text>
<path d="M217.3 365.9H247.9" stroke="#666" stroke-width="0.65"/>
<path d="M230.2 364L234.9 364L232.6 368.2Z" fill="#000"/>
<text x="258.8" y="367.8" class="lg" text-anchor="middle">0</text>
<path d="M217.3 373.3H247.9" stroke="#111" stroke-width="0.65"/>
<circle cx="232.6" cy="373.3" r="2.15" fill="#fff" stroke="#000" stroke-width="0.7"/>
<text x="258.8" y="375.2" class="lg" text-anchor="middle">0,5</text>
<path d="M217.3 380.7H247.9" stroke="#555" stroke-width="0.65"/>
<path d="M230.2 380.7L234.5 378.3L234.5 383Z" fill="#000"/>
<text x="258.8" y="382.6" class="lg" text-anchor="middle">1</text>
<path d="M217.3 388.1H247.9" stroke="#333" stroke-width="0.65"/>
<path d="M232.6 385.6L235.1 388.1L232.6 390.6L230.1 388.1Z" fill="#fff" stroke="#000" stroke-width="0.7"/>
<text x="258.8" y="389.9" class="lg" text-anchor="middle">2</text>
<path d="M217.3 395.4H247.9" stroke="#000" stroke-width="0.95"/>
<circle cx="232.6" cy="395.4" r="2.5" fill="#000"/>
<text x="258.8" y="397.3" class="lg" text-anchor="middle">4</text>
<path d="M217.3 402.8H247.9" stroke="#888" stroke-width="1.1"/>
<rect x="230.8" y="401.1" width="3.5" height="3.5" fill="#fff" stroke="#000" stroke-width="0.7"/>
<text x="258.8" y="404.7" class="lg" text-anchor="middle">8</text>
<text transform="translate(92.8 508.2) scale(1 1.07)" class="tk" text-anchor="end">0</text>
<text transform="translate(92.8 465.1) scale(1 1.07)" class="tk" text-anchor="end">1</text>
<text transform="translate(92.8 422) scale(1 1.07)" class="tk" text-anchor="end">2</text>
<text transform="translate(92.8 378.9) scale(1 1.07)" class="tk" text-anchor="end">3</text>
<text transform="translate(92.8 335.8) scale(1 1.07)" class="tk" text-anchor="end">4</text>
<text x="88.2" y="325.1" class="ax">y/D</text>
<text transform="translate(96.4 515.7) scale(1 1.07)" class="tk" text-anchor="middle">0</text>
<text transform="translate(190.9 515.7) scale(1 1.07)" class="tk" text-anchor="middle">0,25</text>
<text transform="translate(285.1 515.7) scale(1 1.07)" class="tk" text-anchor="middle">0,5</text>
<text x="271.6" y="527.9" class="ax">v′/U<tspan dy="2" font-size="7.4" font-style="normal">0</tspan></text>
<text x="132.7" y="347.7" class="psi">ψ = 180°</text>
</g>
<g>
<path d="M348.6 461.5H537.5M348.6 418.5H537.5M348.6 375.5H537.5M427.5 332.1V504.5M506.5 332.1V504.5" stroke="#2a2a2a" stroke-width="0.75" fill="none"/>
<path d="M348.6 332.5H537.5" stroke="#111" stroke-width="1" fill="none"/>
<path d="M537.5 332.1V504.5" stroke="#222" stroke-width="0.9" fill="none"/>
<path d="M364.3 504.5V501.9M380.1 504.5V501.9M395.8 504.5V501.9M411.6 504.5V501.9M443.1 504.5V501.9M458.8 504.5V501.9M474.5 504.5V501.9M490.3 504.5V501.9M521.8 504.5V501.9M537.5 504.5V501.9M348.6 495.9H351.7M348.6 487.3H351.7M348.6 478.6H351.7M348.6 470H351.7M348.6 452.8H351.7M348.6 444.2H351.7M348.6 435.5H351.7M348.6 426.9H351.7M348.6 409.7H351.7M348.6 401.1H351.7M348.6 392.4H351.7M348.6 383.8H351.7M348.6 366.6H351.7M348.6 358H351.7M348.6 349.3H351.7M348.6 340.7H351.7" stroke="#444" stroke-width="0.65" fill="none"/>
<path d="M348.6 504.5V499.9M427.3 504.5V499.9M506 504.5V499.9M348.6 504.5H353.6M348.6 461.4H353.6M348.6 418.3H353.6M348.6 375.2H353.6M348.6 332.1H353.6" stroke="#000" stroke-width="1.05" fill="none"/>
<path d="M358 332.1L355.8 375.2L354.9 418.3L356.8 461.4" stroke="#000" stroke-width="0.75" fill="none" stroke-linejoin="round"/>
<path d="M358.2 332.1L358.4 375.2L358.4 418.3L359 450.6L359 456L358 461.4L359 466.8L359 472.2" stroke="#666" stroke-width="0.6" fill="none" stroke-linejoin="round"/>
<path d="M362.5 418.3L358.5 429.1L359 439.9L360.2 450.6L359 456L361.3 461.4L382.1 466.8L413.5 469.8L426.7 472.2" stroke="#000" stroke-width="0.9" fill="none" stroke-linejoin="round"/>
<path d="M358.2 332.1L359.5 375.2L360.5 418.3L361.9 429.1L365.2 439.9L368 450.6L377.4 456L384.9 458.8L404.7 461.4L421.3 464L429 466.8L446.3 469.6" stroke="#000" stroke-width="0.8" fill="none" stroke-linejoin="round"/>
<path d="M363.5 418.3L364 429.1L368.6 439.9L383.8 450.6L405.3 456L424.2 461.4L448.3 466.8L454 472.2L461.3 477.6L462.7 482.9L459 488.3L471.9 493.7L485.1 499.1L494.9 504.5" stroke="#000" stroke-width="0.9" fill="none" stroke-linejoin="round"/>
<path d="M358.2 332.1L359.8 375.2L362.6 418.3L365.8 429.1L366.5 439.9L375.3 445.2L397.2 450.6L422.8 456L453.2 461.4L476.5 466.8L495.4 472.2L519.6 477.6L536.2 482.9L529.7 488.3L528.4 493.7L517.6 499.1L500.6 504.5" stroke="#000" stroke-width="0.8" fill="none" stroke-linejoin="round"/>
<path d="M364.7 418.3L380.1 429.1L383 439.9L390.8 450.6L397.6 461.4L403.2 472.2L409.3 482.9L410.2 493.7L410.5 504.5" stroke="#000" stroke-width="0.95" fill="none" stroke-linejoin="round"/>
<path d="M361.3 332.1L391.9 375.2L406.6 396.8L420.3 407.5L423 418.3L433.7 429.1L438.5 439.9L442.5 450.6L448.3 461.4L446.3 472.2L446.1 482.9L449.8 493.7L442.1 504.5" stroke="#0a0a0a" stroke-width="0.8" fill="none" stroke-linejoin="round"/>
<rect x="356" y="330.1" width="4" height="4" fill="#000"/>
<rect x="353.8" y="373.2" width="4" height="4" fill="#000"/>
<rect x="352.9" y="416.3" width="4" height="4" fill="#000"/>
<rect x="354.8" y="459.4" width="4" height="4" fill="#000"/>
<path d="M359 448.5L361.1 452.3L356.9 452.3Z" fill="#fff" stroke="#333" stroke-width="0.55"/>
<path d="M359 453.9L361.1 457.7L356.9 457.7Z" fill="#fff" stroke="#333" stroke-width="0.55"/>
<path d="M358 459.3L360.1 463.1L355.9 463.1Z" fill="#fff" stroke="#333" stroke-width="0.55"/>
<path d="M359 464.7L361.1 468.5L356.9 468.5Z" fill="#fff" stroke="#333" stroke-width="0.55"/>
<path d="M359 470.1L361.1 473.9L356.9 473.9Z" fill="#fff" stroke="#333" stroke-width="0.55"/>
<path d="M360.1 416.4L364.9 416.4L362.5 420.7Z" fill="#000"/>
<path d="M356.1 427.2L360.9 427.2L358.5 431.4Z" fill="#000"/>
<path d="M356.6 438L361.4 438L359 442.2Z" fill="#000"/>
<path d="M357.8 448.7L362.6 448.7L360.2 453Z" fill="#000"/>
<path d="M356.6 454.1L361.4 454.1L359 458.4Z" fill="#000"/>
<path d="M358.9 459.5L363.7 459.5L361.3 463.8Z" fill="#000"/>
<path d="M379.8 464.9L384.5 464.9L382.1 469.1Z" fill="#000"/>
<path d="M411.1 467.9L415.9 467.9L413.5 472.2Z" fill="#000"/>
<path d="M424.3 470.3L429.1 470.3L426.7 474.5Z" fill="#000"/>
<circle cx="358.2" cy="332.1" r="2.15" fill="#fff" stroke="#000" stroke-width="0.7"/>
<circle cx="359.5" cy="375.2" r="2.15" fill="#fff" stroke="#000" stroke-width="0.7"/>
<circle cx="360.5" cy="418.3" r="2.15" fill="#fff" stroke="#000" stroke-width="0.7"/>
<circle cx="361.9" cy="429.1" r="2.15" fill="#fff" stroke="#000" stroke-width="0.7"/>
<circle cx="365.2" cy="439.9" r="2.15" fill="#fff" stroke="#000" stroke-width="0.7"/>
<circle cx="368" cy="450.6" r="2.15" fill="#fff" stroke="#000" stroke-width="0.7"/>
<circle cx="377.4" cy="456" r="2.15" fill="#fff" stroke="#000" stroke-width="0.7"/>
<circle cx="384.9" cy="458.8" r="2.15" fill="#fff" stroke="#000" stroke-width="0.7"/>
<circle cx="404.7" cy="461.4" r="2.15" fill="#fff" stroke="#000" stroke-width="0.7"/>
<circle cx="421.3" cy="464" r="2.15" fill="#fff" stroke="#000" stroke-width="0.7"/>
<circle cx="429" cy="466.8" r="2.15" fill="#fff" stroke="#000" stroke-width="0.7"/>
<circle cx="446.3" cy="469.6" r="2.15" fill="#fff" stroke="#000" stroke-width="0.7"/>
<path d="M361.1 418.3L365.4 415.9L365.4 420.7Z" fill="#000"/>
<path d="M361.6 429.1L365.9 426.7L365.9 431.4Z" fill="#000"/>
<path d="M366.2 439.9L370.5 437.5L370.5 442.2Z" fill="#000"/>
<path d="M381.4 450.6L385.7 448.3L385.7 453Z" fill="#000"/>
<path d="M402.9 456L407.2 453.7L407.2 458.4Z" fill="#000"/>
<path d="M421.8 461.4L426.1 459L426.1 463.8Z" fill="#000"/>
<path d="M445.9 466.8L450.2 464.4L450.2 469.1Z" fill="#000"/>
<path d="M451.6 472.2L455.9 469.8L455.9 474.5Z" fill="#000"/>
<path d="M458.9 477.6L463.2 475.2L463.2 479.9Z" fill="#000"/>
<path d="M460.3 482.9L464.6 480.6L464.6 485.3Z" fill="#000"/>
<path d="M456.6 488.3L460.9 486L460.9 490.7Z" fill="#000"/>
<path d="M469.5 493.7L473.8 491.4L473.8 496.1Z" fill="#000"/>
<path d="M482.8 499.1L487 496.8L487 501.5Z" fill="#000"/>
<path d="M492.5 504.5L496.8 502.1L496.8 506.9Z" fill="#000"/>
<path d="M362.6 415.8L365.1 418.3L362.6 420.8L360.1 418.3Z" fill="#fff" stroke="#000" stroke-width="0.7"/>
<path d="M365.8 426.6L368.3 429.1L365.8 431.6L363.3 429.1Z" fill="#fff" stroke="#000" stroke-width="0.7"/>
<path d="M366.5 437.4L369 439.9L366.5 442.4L364 439.9Z" fill="#fff" stroke="#000" stroke-width="0.7"/>
<path d="M375.3 442.7L377.8 445.2L375.3 447.7L372.8 445.2Z" fill="#fff" stroke="#000" stroke-width="0.7"/>
<path d="M397.2 448.1L399.7 450.6L397.2 453.1L394.7 450.6Z" fill="#fff" stroke="#000" stroke-width="0.7"/>
<path d="M422.8 453.5L425.3 456L422.8 458.5L420.3 456Z" fill="#fff" stroke="#000" stroke-width="0.7"/>
<path d="M453.2 458.9L455.7 461.4L453.2 463.9L450.7 461.4Z" fill="#fff" stroke="#000" stroke-width="0.7"/>
<path d="M476.5 464.3L479 466.8L476.5 469.3L474 466.8Z" fill="#fff" stroke="#000" stroke-width="0.7"/>
<path d="M495.4 469.7L497.9 472.2L495.4 474.7L492.9 472.2Z" fill="#fff" stroke="#000" stroke-width="0.7"/>
<path d="M519.6 475.1L522.1 477.6L519.6 480.1L517.1 477.6Z" fill="#fff" stroke="#000" stroke-width="0.7"/>
<path d="M536.2 480.4L538.7 482.9L536.2 485.4L533.7 482.9Z" fill="#fff" stroke="#000" stroke-width="0.7"/>
<path d="M529.7 485.8L532.2 488.3L529.7 490.8L527.2 488.3Z" fill="#fff" stroke="#000" stroke-width="0.7"/>
<path d="M528.4 491.2L530.9 493.7L528.4 496.2L525.9 493.7Z" fill="#fff" stroke="#000" stroke-width="0.7"/>
<path d="M517.6 496.6L520.1 499.1L517.6 501.6L515.1 499.1Z" fill="#fff" stroke="#000" stroke-width="0.7"/>
<path d="M500.6 502L503.1 504.5L500.6 507L498.1 504.5Z" fill="#fff" stroke="#000" stroke-width="0.7"/>
<circle cx="364.7" cy="418.3" r="2.5" fill="#000"/>
<circle cx="380.1" cy="429.1" r="2.5" fill="#000"/>
<circle cx="383" cy="439.9" r="2.5" fill="#000"/>
<circle cx="390.8" cy="450.6" r="2.5" fill="#000"/>
<circle cx="397.6" cy="461.4" r="2.5" fill="#000"/>
<circle cx="403.2" cy="472.2" r="2.5" fill="#000"/>
<circle cx="409.3" cy="482.9" r="2.5" fill="#000"/>
<circle cx="410.2" cy="493.7" r="2.5" fill="#000"/>
<circle cx="410.5" cy="504.5" r="2.5" fill="#000"/>
<rect x="359.6" y="330.4" width="3.5" height="3.5" fill="#fff" stroke="#000" stroke-width="0.7"/>
<rect x="390.1" y="373.4" width="3.5" height="3.5" fill="#fff" stroke="#000" stroke-width="0.7"/>
<rect x="404.9" y="395" width="3.5" height="3.5" fill="#fff" stroke="#000" stroke-width="0.7"/>
<rect x="418.6" y="405.8" width="3.5" height="3.5" fill="#fff" stroke="#000" stroke-width="0.7"/>
<rect x="421.2" y="416.6" width="3.5" height="3.5" fill="#fff" stroke="#000" stroke-width="0.7"/>
<rect x="431.9" y="427.3" width="3.5" height="3.5" fill="#fff" stroke="#000" stroke-width="0.7"/>
<rect x="436.8" y="438.1" width="3.5" height="3.5" fill="#fff" stroke="#000" stroke-width="0.7"/>
<rect x="440.8" y="448.9" width="3.5" height="3.5" fill="#fff" stroke="#000" stroke-width="0.7"/>
<rect x="446.6" y="459.6" width="3.5" height="3.5" fill="#fff" stroke="#000" stroke-width="0.7"/>
<rect x="444.6" y="470.4" width="3.5" height="3.5" fill="#fff" stroke="#000" stroke-width="0.7"/>
<rect x="444.4" y="481.2" width="3.5" height="3.5" fill="#fff" stroke="#000" stroke-width="0.7"/>
<rect x="448.1" y="492" width="3.5" height="3.5" fill="#fff" stroke="#000" stroke-width="0.7"/>
<rect x="440.4" y="502.8" width="3.5" height="3.5" fill="#fff" stroke="#000" stroke-width="0.7"/>
<path d="M348.6 331.8V504.5H537.8" stroke="#000" stroke-width="1.3" fill="none"/>
<rect x="462.5" y="338.5" width="70" height="75" fill="#fff" stroke="#2a2a2a" stroke-width="0.85"/>
<text x="511.7" y="346.1" class="lg" text-anchor="middle">x/D</text>
<path d="M469.5 351.1H500.1" stroke="#111" stroke-width="0.65"/>
<rect x="482.8" y="349.1" width="4" height="4" fill="#000"/>
<text x="511" y="353" class="lg" text-anchor="middle">-3</text>
<path d="M469.5 358.5H500.1" stroke="#222" stroke-width="0.65"/>
<path d="M484.8 356.4L486.9 360.2L482.7 360.2Z" fill="#fff" stroke="#333" stroke-width="0.55"/>
<text x="511" y="360.4" class="lg" text-anchor="middle">-0,5</text>
<path d="M469.5 365.9H500.1" stroke="#666" stroke-width="0.65"/>
<path d="M482.5 364L487.2 364L484.8 368.2Z" fill="#000"/>
<text x="511" y="367.8" class="lg" text-anchor="middle">0</text>
<path d="M469.5 373.3H500.1" stroke="#111" stroke-width="0.65"/>
<circle cx="484.8" cy="373.3" r="2.15" fill="#fff" stroke="#000" stroke-width="0.7"/>
<text x="511" y="375.2" class="lg" text-anchor="middle">0,5</text>
<path d="M469.5 380.7H500.1" stroke="#555" stroke-width="0.65"/>
<path d="M482.5 380.7L486.7 378.3L486.7 383Z" fill="#000"/>
<text x="511" y="382.6" class="lg" text-anchor="middle">1</text>
<path d="M469.5 388.1H500.1" stroke="#333" stroke-width="0.65"/>
<path d="M484.8 385.6L487.3 388.1L484.8 390.6L482.3 388.1Z" fill="#fff" stroke="#000" stroke-width="0.7"/>
<text x="511" y="389.9" class="lg" text-anchor="middle">2</text>
<path d="M469.5 395.4H500.1" stroke="#000" stroke-width="0.95"/>
<circle cx="484.8" cy="395.4" r="2.5" fill="#000"/>
<text x="511" y="397.3" class="lg" text-anchor="middle">4</text>
<path d="M469.5 402.8H500.1" stroke="#888" stroke-width="1.1"/>
<rect x="483.1" y="401.1" width="3.5" height="3.5" fill="#fff" stroke="#000" stroke-width="0.7"/>
<text x="511" y="404.7" class="lg" text-anchor="middle">8</text>
<text transform="translate(345 508.2) scale(1 1.07)" class="tk" text-anchor="end">0</text>
<text transform="translate(345 465.1) scale(1 1.07)" class="tk" text-anchor="end">1</text>
<text transform="translate(345 422) scale(1 1.07)" class="tk" text-anchor="end">2</text>
<text transform="translate(345 378.9) scale(1 1.07)" class="tk" text-anchor="end">3</text>
<text transform="translate(345 335.8) scale(1 1.07)" class="tk" text-anchor="end">4</text>
<text x="340.4" y="325.1" class="ax">y/D</text>
<text transform="translate(348.6 515.6) scale(1 1.07)" class="tk" text-anchor="middle">0</text>
<text transform="translate(427.3 515.6) scale(1 1.07)" class="tk" text-anchor="middle">0,25</text>
<text transform="translate(505 515.6) scale(1 1.07)" class="tk" text-anchor="middle">0,5</text>
<text x="520.1" y="515.9" class="ax">v′/U<tspan dy="2" font-size="7.4" font-style="normal">0</tspan></text>
<text x="378.6" y="347.7" class="psi">ψ = 270°</text>
</g>
<text x="108.0" y="554.5" class="cap" textLength="412.8" lengthAdjust="spacingAndGlyphs">Рисунок 58 — Профили интенсивностей пульсаций скорости в поперечном направлении</text>
<text x="581.5" y="853.0" class="pg" text-anchor="end">29</text>
</svg>
</body></html>
